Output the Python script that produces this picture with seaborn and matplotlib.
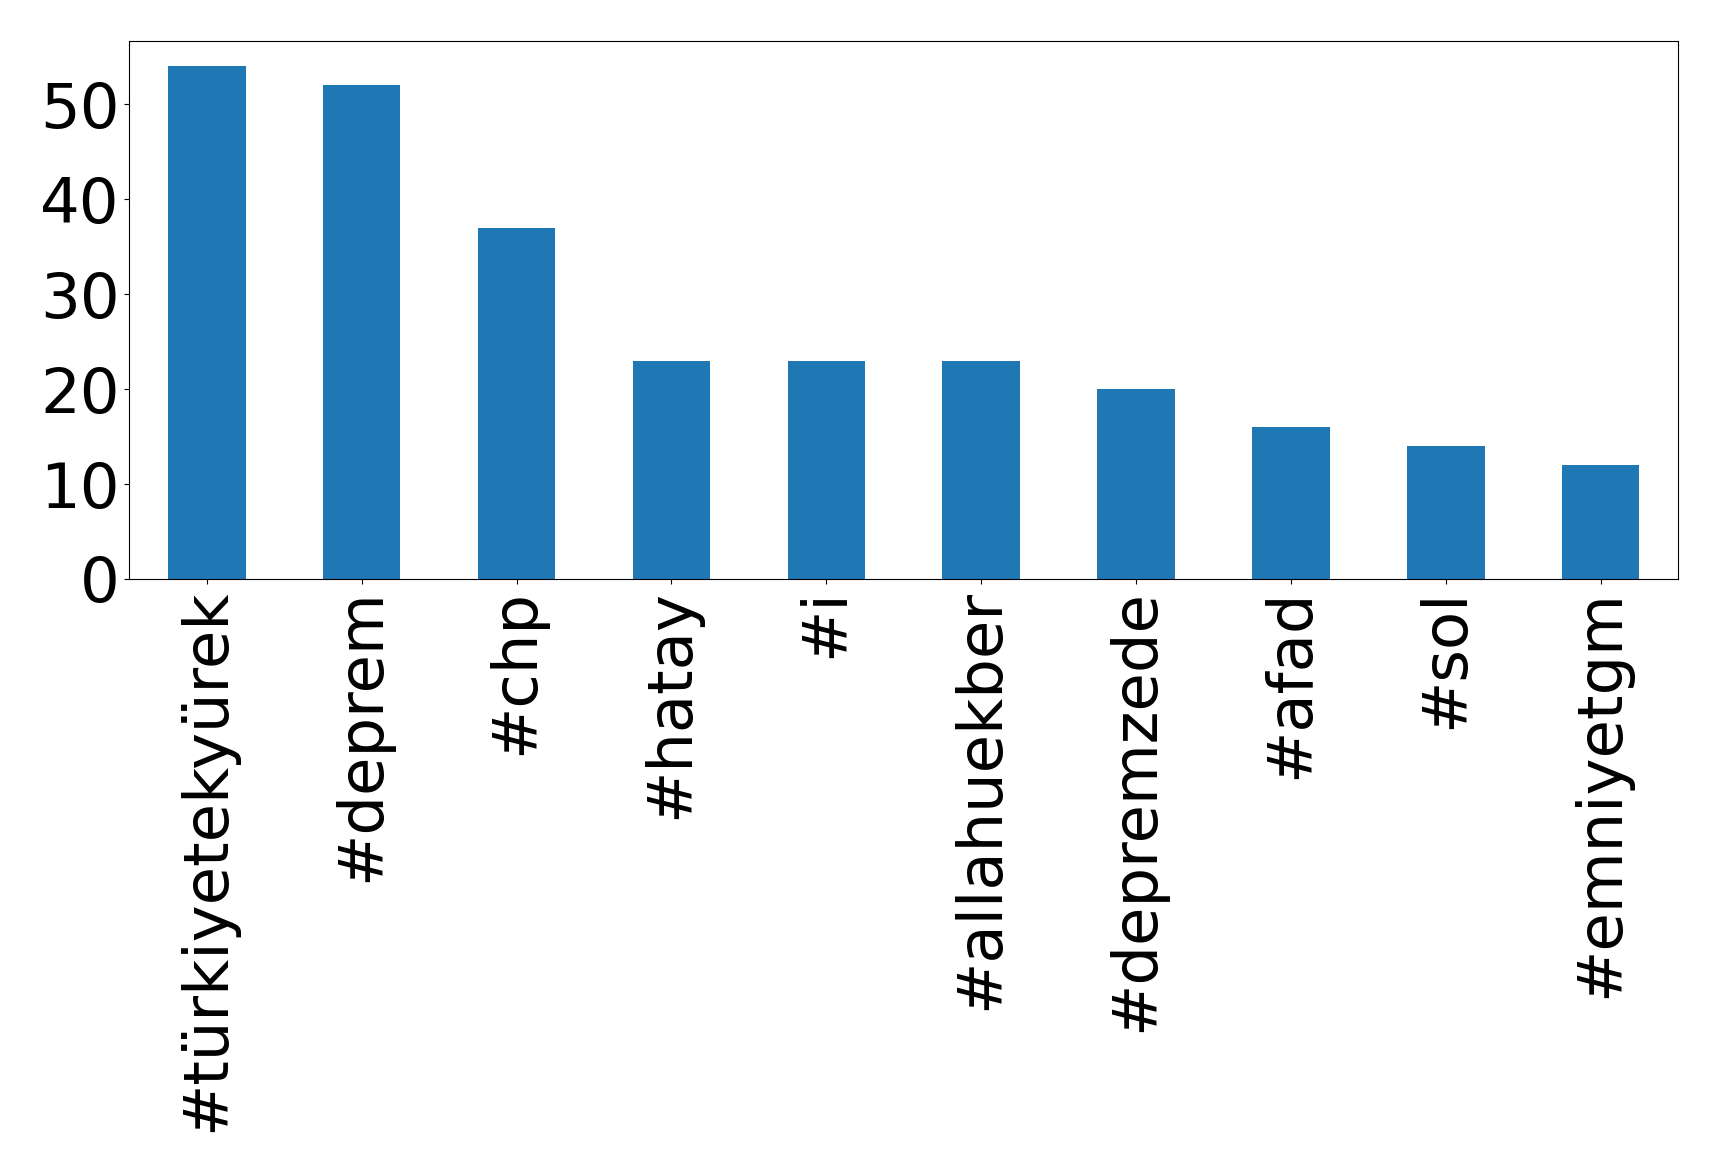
import matplotlib
matplotlib.use("Agg")
import matplotlib.pyplot as plt
from matplotlib.ticker import MultipleLocator
import seaborn as sns
import pandas as pd

# ---------------------------
# Data (top hashtags)
# ---------------------------
hashtags = ["#türkiyetekyürek", "#deprem", "#chp", "#hatay", "#i",
            "#allahuekber", "#depremzede", "#afad", "#sol", "#emniyetgm"]
counts = [54, 52, 37, 23, 23, 23, 20, 16, 14, 12]

df = pd.DataFrame({"hashtag": hashtags, "count": counts})

# ---------------------------
# Plot
# ---------------------------
fig = plt.figure(figsize=(17.19, 11.72), dpi=100)
ax = fig.add_axes([0.0753, 0.506, 0.9009, 0.4594])

sns.barplot(data=df, x="hashtag", y="count", color="#1f77b4",
            saturation=1, width=0.5, ax=ax)

ax.set_xlim(-0.5, len(hashtags) - 0.5)
ax.set_ylim(0, 56.7)
ax.yaxis.set_major_locator(MultipleLocator(10))
ax.set_xlabel("")
ax.set_ylabel("")
ax.tick_params(axis="x", labelrotation=90, labelsize=45)
ax.tick_params(axis="y", labelsize=45)

fig.savefig("out.png", dpi=100)
